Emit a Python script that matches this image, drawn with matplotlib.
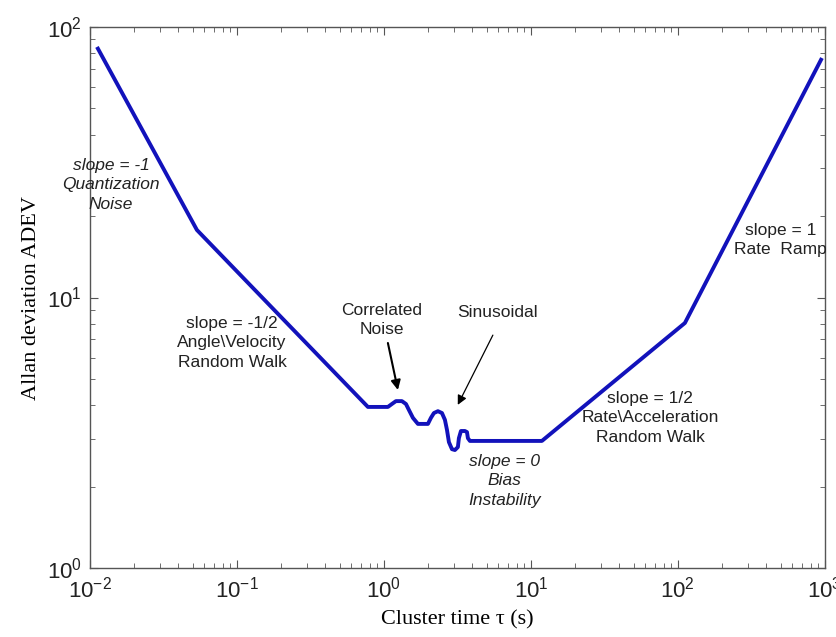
import numpy as np
import matplotlib
matplotlib.use('Agg')
import matplotlib.pyplot as plt

# fuentes tipo Arial / Times
plt.rcParams['font.family'] = ['Liberation Sans', 'DejaVu Sans']
plt.rcParams['mathtext.fontset'] = 'custom'
plt.rcParams['mathtext.rm'] = 'Liberation Sans'
plt.rcParams['mathtext.it'] = 'Liberation Sans:italic'

# curva de Allan (tiempo de cluster tau, desviacion ADEV)
tau = [0.01116, 0.0534, 0.778, 1.064, 1.133, 1.207, 1.325, 1.412, 1.479, 1.575,
       1.703, 1.992, 2.088, 2.188, 2.330, 2.482, 2.600, 2.685, 2.768, 2.903,
       3.041, 3.186, 3.236, 3.342, 3.556, 3.673, 3.727, 3.846, 11.88, 111.6, 955]
adev = [84.4, 17.77, 3.94, 3.94, 4.04, 4.14, 4.14, 4.04, 3.84, 3.59,
        3.41, 3.41, 3.59, 3.74, 3.80, 3.74, 3.53, 3.24, 2.92, 2.75,
        2.73, 2.80, 3.02, 3.21, 3.21, 3.18, 3.02, 2.95, 2.95, 8.05, 76.8]

# etiquetas de cada zona: texto, posicion (tau, adev), cursiva
etiquetas = ['slope = -1\nQuantization\nNoise',
             'slope = -1/2\nAngle\\Velocity\nRandom Walk',
             'slope = 0\nBias\nInstability',
             'slope = 1/2\nRate\\Acceleration\nRandom Walk',
             'slope = 1\nRate  Ramp',
             'Correlated\nNoise',
             'Sinusoidal']
pos_tau = [0.0139, 0.0925, 6.65, 64.6, 502, 0.969, 5.97]
pos_adev = [26.1, 6.79, 2.10, 3.59, 16.3, 8.26, 8.77]
cursiva = [True, False, True, False, False, False, False]

# flechas: inicio y punta (tau, adev), grosor
flecha_ini = [(1.064, 6.79), (5.51, 7.26)]
flecha_fin = [(1.245, 4.55), (3.18, 4.01)]
flecha_lw = [1.5, 0.9]

fig = plt.figure(figsize=(8.37, 6.37), dpi=100)
ax = fig.add_axes([0.1075, 0.1083, 0.878, 0.8493])

ax.loglog(tau, adev, color='#1212bb', linewidth=2.8, solid_joinstyle='round',
          solid_capstyle='butt')

ax.set_xlim(1e-2, 1e3)
ax.set_ylim(1e0, 1e2)

# textos de las pendientes y ruidos
for txt, xt, yt, it in zip(etiquetas, pos_tau, pos_adev, cursiva):
    ax.text(xt, yt, txt, ha='center', va='center', fontsize=12.5,
            style='italic' if it else 'normal', color='#222222',
            linespacing=1.35, clip_on=False)

# flechas de ruido correlacionado y sinusoidal
for ini, fin, lw in zip(flecha_ini, flecha_fin, flecha_lw):
    ax.annotate('', xy=fin, xytext=ini,
                arrowprops=dict(arrowstyle='-|>', color='black', lw=lw,
                                mutation_scale=14, shrinkA=0, shrinkB=0))

# ejes estilo matlab
for s in ax.spines.values():
    s.set_color('#555555')
    s.set_linewidth(1.0)
ax.tick_params(which='both', direction='in', top=True, right=True, colors='#555555',
               labelcolor='#222222', labelsize=16)
ax.tick_params(which='major', length=6, pad=6)
ax.tick_params(which='minor', length=3.5)

ax.set_xlabel('Cluster time τ (s)', family='Liberation Serif', fontsize=16, labelpad=6)
ax.set_ylabel('Allan deviation ADEV', family='Liberation Serif', fontsize=16, labelpad=4)

fig.savefig('out.png', dpi=100)
